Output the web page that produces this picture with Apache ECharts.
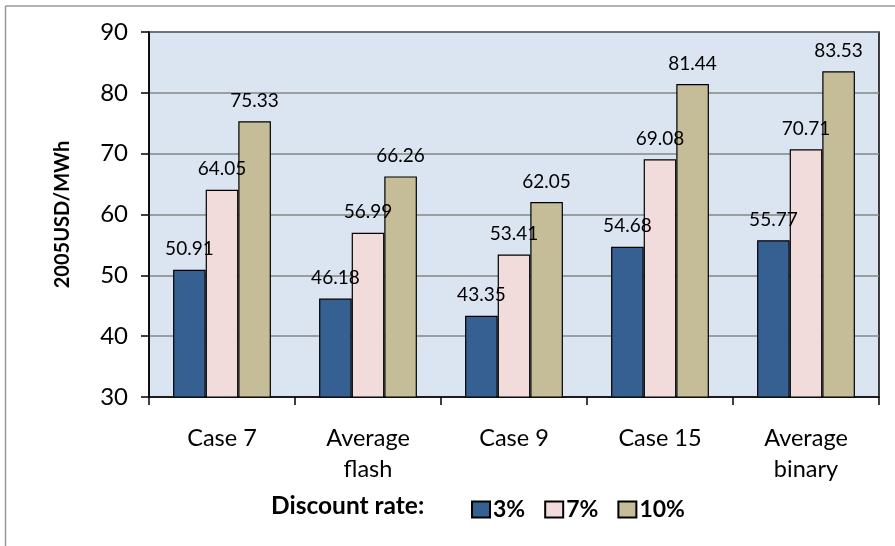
<!DOCTYPE html>
<html>
<head>
<meta charset="utf-8">
<script src="https://cdn.jsdelivr.net/npm/echarts@6/dist/echarts.min.js"></script>
<style>
  html, body { margin: 0; padding: 0; background: #ffffff; }
  #chart { width: 895px; height: 546px; }
</style>
</head>
<body>
<div id="chart"></div>
<script>
// Levelized cost by case, at three discount rates
const categories = ['Case 7', 'Average\nflash', 'Case 9', 'Case 15', 'Average\nbinary'];
const seriesNames = ['3%', '7%', '10%'];
const rate3 = [50.91, 46.18, 43.35, 54.68, 55.77];
const rate7 = [64.05, 56.99, 53.41, 69.08, 70.71];
const rate10 = [75.33, 66.26, 62.05, 81.44, 83.53];
const yTicks = [30, 40, 50, 60, 70, 80, 90];

const FONT = 'Lato, "Open Sans", sans-serif';
const colors = ['#376092', '#F2DCDB', '#C4BD97'];
const values = [rate3, rate7, rate10];

const chart = echarts.init(document.getElementById('chart'));

const series = seriesNames.map((name, i) => ({
  name: name,
  type: 'bar',
  data: values[i],
  barGap: '0%',
  barCategoryGap: '33%',
  itemStyle: { color: colors[i], borderColor: '#000000', borderWidth: 1.2 },
  label: {
    show: true,
    position: 'top',
    distance: 11,
    color: '#000000',
    fontFamily: FONT,
    fontSize: 19,
    formatter: p => p.value.toFixed(2)
  },
  emphasis: { disabled: true }
}));

chart.setOption({
  animation: false,
  backgroundColor: '#ffffff',
  grid: {
    left: 149, right: 16, top: 32, bottom: 149,
    show: true,
    backgroundColor: '#DBE5F1',
    borderColor: '#000000',
    borderWidth: 1.5
  },
  xAxis: {
    type: 'category',
    data: categories,
    axisLine: { lineStyle: { color: '#000000', width: 1.5 } },
    axisTick: { show: true, length: 8, inside: false, lineStyle: { color: '#000000', width: 1.5 } },
    axisLabel: {
      color: '#000000', fontFamily: FONT, fontSize: 23.5, lineHeight: 31, margin: 26
    }
  },
  yAxis: {
    type: 'value',
    min: yTicks[0],
    max: yTicks[yTicks.length - 1],
    interval: 10,
    name: '2005USD/MWh',
    nameLocation: 'middle',
    nameGap: 76,
    nameTextStyle: { color: '#000000', fontFamily: FONT, fontSize: 20, fontWeight: 'bold' },
    axisLine: { show: true, lineStyle: { color: '#000000', width: 1.5 } },
    axisTick: { show: true, length: 8, lineStyle: { color: '#000000', width: 1.5 } },
    axisLabel: { color: '#000000', fontFamily: FONT, fontSize: 24, margin: 21 },
    splitLine: { show: true, lineStyle: { color: '#868686', width: 1.5 } }
  },
  legend: {
    left: 466,
    top: 493,
    icon: 'rect',
    itemWidth: 18,
    itemHeight: 16,
    itemGap: 19,
    data: seriesNames,
    textStyle: { color: '#000000', fontFamily: FONT, fontSize: 23, fontWeight: 'bold', padding: [0, 0, 0, -2] }
  },
  graphic: [
    {
      type: 'text', left: 271, top: 494,
      style: { text: 'Discount rate:', fill: '#000000', font: 'bold 24.5px ' + FONT }
    },
    {
      type: 'line', silent: true,
      shape: { x1: 5.5, y1: 6, x2: 5.5, y2: 546 },
      style: { stroke: '#999999', lineWidth: 1.5 }
    },
    {
      type: 'line', silent: true,
      shape: { x1: 5.5, y1: 6, x2: 895, y2: 6 },
      style: { stroke: '#999999', lineWidth: 1.5 }
    }
  ],
  series: series
});
</script>
</body>
</html>
